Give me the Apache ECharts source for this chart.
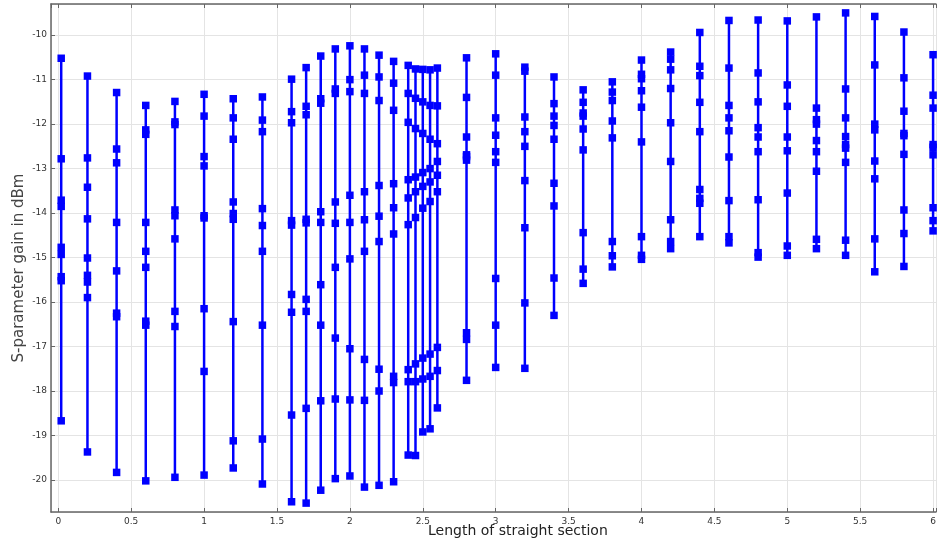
<!DOCTYPE html>
<html>
<head>
<meta charset="utf-8">
<script src="https://cdn.jsdelivr.net/npm/echarts@6/dist/echarts.min.js"></script>
<style>html,body{margin:0;padding:0;background:#fff}#c{width:939px;height:545px}</style>
</head>
<body>
<div id="c"></div>
<script>
// Length of straight section (x positions of each sweep column)
const lengths = [0.02,0.2,0.4,0.6,0.8,1.0,1.2,1.4,1.6,1.7,1.8,1.9,2.0,2.1,2.2,2.3,2.4,2.45,2.5,2.55,2.6,2.8,3.0,3.2,3.4,3.6,3.8,4.0,4.2,4.4,4.6,4.8,5.0,5.2,5.4,5.6,5.8,6.0];
// S-parameter gain values (dBm) at each length
const gains = [
  [-10.52,-12.78,-13.71,-13.85,-14.77,-14.93,-15.43,-15.52,-18.67],
  [-10.92,-12.76,-13.42,-14.13,-15.01,-15.40,-15.55,-15.90,-19.37],
  [-11.29,-12.56,-12.87,-14.21,-15.30,-16.25,-16.33,-19.83],
  [-11.58,-12.13,-12.23,-14.21,-14.86,-15.22,-16.43,-16.52,-20.02],
  [-11.49,-11.95,-12.01,-13.93,-14.06,-14.58,-16.21,-16.55,-19.94],
  [-11.33,-11.82,-12.73,-12.94,-14.06,-14.11,-16.15,-17.56,-19.89],
  [-11.43,-11.86,-12.34,-13.75,-14.01,-14.14,-16.44,-19.12,-19.73],
  [-11.39,-11.91,-12.17,-13.90,-14.28,-14.86,-16.52,-19.08,-20.09],
  [-10.99,-11.72,-11.97,-14.17,-14.27,-15.83,-16.23,-18.54,-20.49],
  [-10.73,-11.60,-11.79,-14.14,-14.22,-15.94,-16.21,-18.39,-20.52],
  [-10.47,-11.43,-11.53,-13.97,-14.21,-15.61,-16.52,-18.22,-20.23],
  [-10.31,-11.21,-11.31,-13.75,-14.23,-15.22,-16.81,-18.18,-19.97],
  [-10.24,-11.00,-11.27,-13.60,-14.21,-15.03,-17.05,-18.20,-19.91],
  [-10.31,-10.90,-11.31,-13.52,-14.15,-14.86,-17.29,-18.21,-20.16],
  [-10.45,-10.94,-11.47,-13.38,-14.07,-14.64,-17.51,-18.00,-20.12],
  [-10.59,-11.08,-11.69,-13.34,-13.88,-14.47,-17.67,-17.81,-20.04],
  [-10.68,-11.31,-11.96,-13.25,-13.66,-14.26,-17.52,-17.79,-19.44],
  [-10.76,-11.42,-12.10,-13.19,-13.52,-14.10,-17.39,-17.79,-19.45],
  [-10.77,-11.50,-12.21,-13.09,-13.40,-13.89,-17.26,-17.73,-18.92],
  [-10.78,-11.58,-12.34,-13.00,-13.30,-13.74,-17.17,-17.67,-18.85],
  [-10.74,-11.59,-12.44,-12.84,-13.15,-13.52,-17.02,-17.54,-18.38],
  [-10.51,-11.40,-12.29,-12.69,-12.73,-12.81,-16.69,-16.84,-17.76],
  [-10.42,-10.90,-11.86,-12.25,-12.62,-12.86,-15.47,-16.52,-17.47],
  [-10.72,-10.81,-11.84,-12.17,-12.50,-13.27,-14.33,-16.02,-17.49],
  [-10.94,-11.54,-11.82,-12.03,-12.34,-13.33,-13.84,-15.46,-16.30],
  [-11.23,-11.51,-11.75,-11.82,-12.11,-12.58,-14.44,-15.26,-15.58],
  [-11.05,-11.28,-11.47,-11.93,-12.31,-14.64,-14.96,-15.21],
  [-10.56,-10.88,-10.98,-11.25,-11.62,-12.40,-14.53,-14.95,-15.04],
  [-10.38,-10.54,-10.78,-11.20,-11.97,-12.84,-14.15,-14.64,-14.80],
  [-9.94,-10.70,-10.91,-11.51,-12.17,-13.47,-13.67,-13.78,-14.53],
  [-9.67,-10.74,-11.58,-11.86,-12.15,-12.74,-13.72,-14.53,-14.67],
  [-9.66,-10.85,-11.50,-12.08,-12.29,-12.62,-13.70,-14.89,-14.99],
  [-9.68,-11.12,-11.60,-12.29,-12.60,-13.55,-14.74,-14.95],
  [-9.59,-11.64,-11.90,-12.00,-12.37,-12.62,-13.06,-14.59,-14.80],
  [-9.50,-11.21,-11.86,-12.28,-12.46,-12.54,-12.86,-14.61,-14.95],
  [-9.58,-10.67,-12.00,-12.13,-12.83,-13.23,-14.58,-15.32],
  [-9.93,-10.96,-11.71,-12.21,-12.26,-12.68,-13.93,-14.46,-15.20],
  [-10.44,-11.35,-11.64,-12.46,-12.52,-12.69,-13.88,-14.17,-14.40]
];
const xTitle = 'Length of straight section';
const yTitle = 'S-parameter gain in dBm';

const chart = echarts.init(document.getElementById('c'), null, {renderer: 'canvas'});
const series = lengths.map((x, i) => ({
  type: 'line',
  xAxisIndex: 0,
  yAxisIndex: 0,
  data: gains[i].map(v => [x, v]),
  symbol: 'rect',
  symbolSize: 7.5,
  showAllSymbol: true,
  lineStyle: {color: '#0000ff', width: 2.5},
  itemStyle: {color: '#0000ff'},
  silent: true,
  animation: false
}));
const lab = {color: '#333', fontSize: 9, fontFamily: 'DejaVu Sans'};
const fmtX = v => {
  const r = Math.round(v * 2) / 2;
  if (Math.abs(v - r) > 1e-6) return '';
  return String(r);
};
chart.setOption({
  animation: false,
  grid: {left: 51, right: 0, top: 4, bottom: 33, containLabel: false},
  xAxis: [{
    type: 'value', min: -0.05, max: 6.02, splitNumber: 12,
    axisLine: {show: true, lineStyle: {color: '#666', width: 1.5}},
    axisTick: {show: true, inside: true, length: 4, lineStyle: {color: '#666'}},
    axisLabel: Object.assign({margin: 5, formatter: fmtX, showMinLabel: false, showMaxLabel: true}, lab),
    splitLine: {show: true, lineStyle: {color: '#e4e4e4', width: 1}}
  }, {
    type: 'value', position: 'top', min: -0.05, max: 6.02, splitNumber: 12,
    axisLine: {show: true, onZero: false, lineStyle: {color: '#666', width: 1.5}},
    axisTick: {show: true, inside: true, length: 4, lineStyle: {color: '#666'}},
    axisLabel: {show: false},
    splitLine: {show: false}
  }],
  yAxis: [{
    type: 'value', min: -20.72, max: -9.30, splitNumber: 11,
    axisLine: {show: true, onZero: false, lineStyle: {color: '#666', width: 1.5}},
    axisTick: {show: true, inside: true, length: 4, lineStyle: {color: '#666'}},
    axisLabel: Object.assign({margin: 4, showMinLabel: false, showMaxLabel: false,
      formatter: v => (Math.abs(v - Math.round(v)) < 1e-6 ? String(Math.round(v)) : '')}, lab),
    splitLine: {show: true, lineStyle: {color: '#e4e4e4', width: 1}}
  }],
  graphic: [
    {type: 'text', left: 428, top: 524, style: {text: xTitle, fill: '#222', font: '14px "DejaVu Sans"'}},
    {type: 'text', x: 19, y: 268, rotation: Math.PI / 2,
      style: {text: yTitle, fill: '#444', font: '15px "DejaVu Sans"', align: 'center', verticalAlign: 'middle'}}
  ],
  series: series
});
</script>
</body>
</html>
